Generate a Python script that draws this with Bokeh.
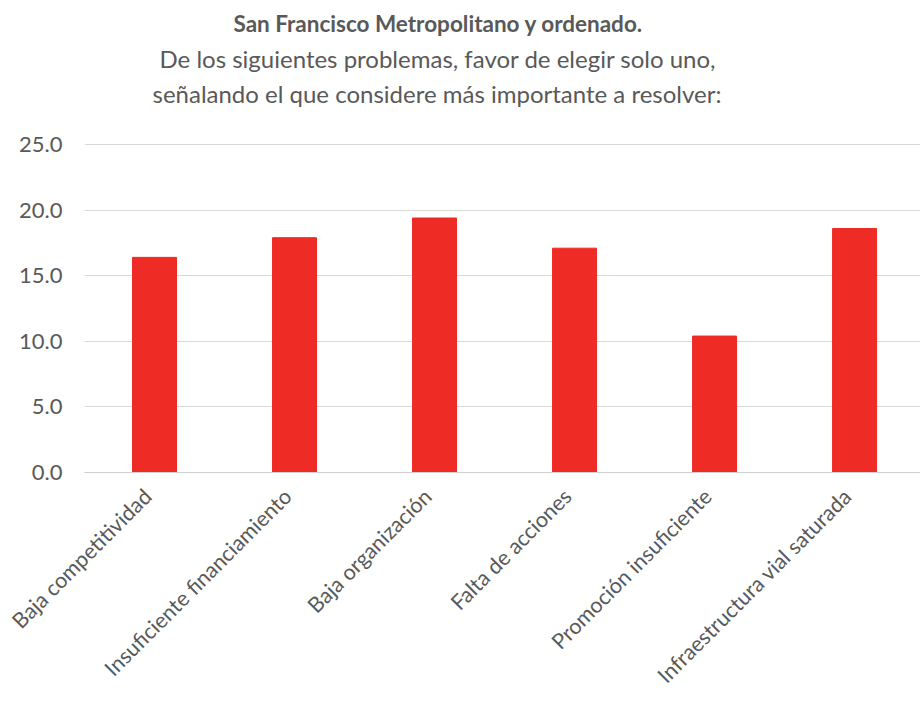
from bokeh.plotting import figure
from bokeh.models import Range1d, FixedTicker, Title, ColumnDataSource
from bokeh.embed import file_html
from bokeh.resources import INLINE
import math

categories = ["Baja competitividad", "Insuficiente financiamiento", "Baja organización",
              "Falta de acciones", "Promoción insuficiente", "Infraestructura vial saturada"]
values = [16.4, 17.9, 19.4, 17.1, 10.4, 18.6]
y_ticks = [0, 5, 10, 15, 20, 25]
y_tick_labels = ["0.0", "5.0", "10.0", "15.0", "20.0", "25.0"]
title_lines = ["San Francisco Metropolitano y ordenado.",
               "De los siguientes problemas, favor de elegir solo uno,",
               "señalando el que considere más importante a resolver:"]

FONT = "Lato"
GREY = "#595959"
RED = "#EE2B24"
LABEL_SHIFT = -0.05  # labels anchored slightly left of bar centre

xs = list(range(len(categories)))
src = ColumnDataSource(dict(x=xs, top=values))

p = figure(width=920, height=702, output_backend="svg", toolbar_location=None,
           x_range=Range1d(-0.5, 5.471), y_range=Range1d(0, 25.08),
           min_border_left=84, min_border_right=0, min_border_top=143, min_border_bottom=230)
p.outline_line_color = None
p.background_fill_color = "white"
p.border_fill_color = "white"

p.vbar(x="x", top="top", width=0.314, bottom=0, source=src, color=RED)

# titles: stacked upward from the frame; first a spacer
p.add_layout(Title(text=" ", text_font_size="1px", standoff=31), "above")
specs = [(title_lines[2], "normal", "24px", 4, 68),
         (title_lines[1], "normal", "24px", 4, 75),
         (title_lines[0], "bold", "22.5px", 5, 149)]
for txt, style, size, stand, off in specs:
    p.add_layout(Title(text=txt, align="left", offset=off, text_font=FONT,
                       text_font_size=size, text_font_style=style,
                       text_color=GREY, standoff=stand), "above")

# y axis
p.yaxis.ticker = FixedTicker(ticks=y_ticks)
p.yaxis.major_label_overrides = {t: l for t, l in zip(y_ticks, y_tick_labels)}
p.yaxis.axis_line_color = None
p.yaxis.major_tick_line_color = None
p.yaxis.minor_tick_line_color = None
p.yaxis.major_tick_out = 0
p.yaxis.major_label_standoff = 22
p.yaxis.major_label_text_font = FONT
p.yaxis.major_label_text_font_size = "22px"
p.yaxis.major_label_text_color = GREY

# x axis
label_pos = [round(i + LABEL_SHIFT, 3) for i in xs]
p.xaxis.ticker = FixedTicker(ticks=label_pos)
p.xaxis.major_label_overrides = {t: c for t, c in zip(label_pos, categories)}
p.xaxis.axis_line_color = "#d0cece"
p.xaxis.major_tick_line_color = None
p.xaxis.minor_tick_line_color = None
p.xaxis.major_tick_out = 0
p.xaxis.major_label_orientation = math.pi / 4
p.xaxis.major_label_standoff = 20
p.xaxis.major_label_text_font = FONT
p.xaxis.major_label_text_font_size = "21.5px"
p.xaxis.major_label_text_color = GREY

p.xgrid.grid_line_color = None
p.ygrid.grid_line_color = "#d9d9d9"
p.ygrid.ticker = FixedTicker(ticks=y_ticks)

open("out.html", "w").write(file_html(p, INLINE))
